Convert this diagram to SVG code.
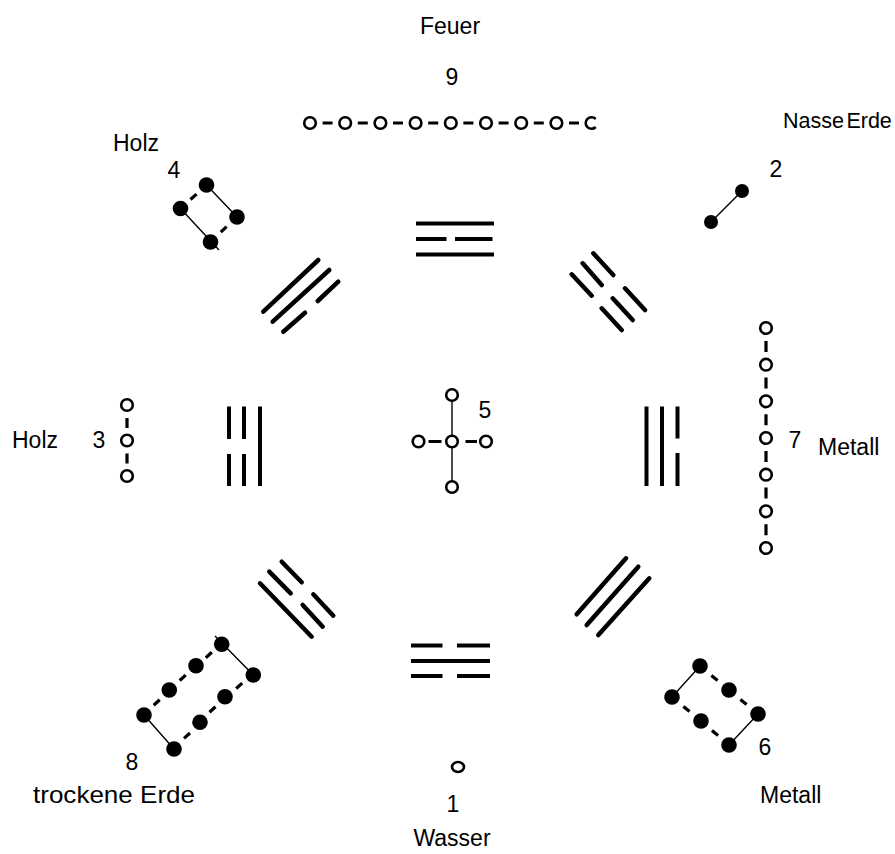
<svg xmlns="http://www.w3.org/2000/svg" width="895" height="854" viewBox="0 0 895 854">
<style>
text{font-family:"Liberation Sans",Arial,sans-serif;font-size:23px;fill:#000}
.o{fill:#fff;stroke:#000;stroke-width:2.6}
.f{fill:#000}
.d{stroke:#000;stroke-width:3.2;fill:none}
.t{stroke:#000;stroke-width:1.4;fill:none}
.bar{stroke:#000;stroke-width:4;fill:none}
.dg{stroke:#000;stroke-width:4.5;fill:none;stroke-linecap:round}
</style>
<rect width="895" height="854" fill="#fff"/>
<g id="trigrams">
<g id="tri-top" class="bar"><path d="M416,223.5H494M416,239H446.5M455,239H492.5M416,254.5H494"/></g>
<g id="tri-bottom" class="bar"><path d="M411,645.5H442.5M457,645.5H490M411,661H490M411,676H442.5M457,676H490"/></g>
<g id="tri-left" class="bar"><path d="M229,406.5V439M244,406.5V439M229,454V486M244,454V486M260,406.5V486"/></g>
<g id="tri-right" class="bar"><path d="M646.5,406.5V486M662,406.5V486M677.5,406.5V438.5M677.5,453V486"/></g>
<g id="tri-ul" class="dg"><path d="M263.3,311.7L318.3,260M272.7,321.7L329.3,270M283.3,331.7L305,312.7M317.7,301L338.3,281.7"/></g>
<g id="tri-ur" class="dg"><path d="M593.3,253.3L613.3,275M625,288.3L645,310M582.7,263.3L601.7,285M612.7,298.3L632.7,320M571.7,274.3L591.7,295.7M601.7,308.3L621.7,330"/></g>
<g id="tri-ll" class="dg"><path d="M260,583.3L311.7,636.7M269.3,571.7L290.7,593.3M302.7,605L322.7,626.7M281.7,561.7L301.7,582.3M313.3,594.3L333.3,615.7"/></g>
<g id="tri-lr" class="dg"><path d="M576.7,614.3L626,558.3M586.7,625L638.3,566.7M598.3,635L649.3,578.3"/></g>
</g>
<g id="connectors">
<path class="d" d="M322.6,123H332.6M357.8,123H367.8M393,123H403M428.2,123H438.2M463.4,123H473.4M498.6,123H508.6M533.8,123H543.8M569,123H579"/>
<path class="d" d="M766,340.9V351.9M766,377.5V388.5M766,414.2V425.2M766,450.9V461.9M766,487.5V498.5M766,524.2V535.2"/>
<path class="d" d="M127,418V428M127,453.5V463.5"/>
<path class="t" d="M452,400V482"/>
<path class="d" d="M428.5,441.5H441.5M465.5,441.5H477"/>
<path class="t" d="M711,222L742,191"/>
<path class="t" d="M206.5,185L237,217M180.5,208.5L219,250"/>
<path class="d" d="M190.5,199.5L196.5,194.1M220.8,232.2L226.6,226.7"/>
<path class="t" d="M144,715L174,749M253.3,675L215,636"/>
<path class="d" d="M205.8,657.7L211.8,652.3M179.7,680.5L185.7,675.1M153.7,705.2L159.7,699.8M184,738.4L190,733M209.5,712.2L215.5,706.8M236.2,688.5L242.2,683.1"/>
<path class="t" d="M700,666L672,697M758,714L729,745"/>
<path class="d" d="M711.4,675.5L717.6,680.5M740.4,699.5L746.6,704.5M683.4,706.5L689.6,711.5M711.9,730.5L718.1,735.5"/>
</g>
<g id="n9"><circle class="o" cx="310" cy="123" r="5.8"/><circle class="o" cx="345.2" cy="123" r="5.8"/><circle class="o" cx="380.4" cy="123" r="5.8"/><circle class="o" cx="415.6" cy="123" r="5.8"/><circle class="o" cx="450.8" cy="123" r="5.8"/><circle class="o" cx="486" cy="123" r="5.8"/><circle class="o" cx="521.2" cy="123" r="5.8"/><circle class="o" cx="556.4" cy="123" r="5.8"/><path class="o" d="M595.7,119A5.8,5.8 0 1 0 595.7,127"/>
<text x="452" y="85" text-anchor="middle">9</text><text x="450" y="34" text-anchor="middle">Feuer</text></g>
<g id="n2"><circle class="f" cx="742" cy="191" r="7"/><circle class="f" cx="711" cy="222" r="7"/><text x="776" y="177" text-anchor="middle">2</text><text x="783" y="128" style="font-size:21.5px;word-spacing:-3.5px">Nasse Erde</text></g>
<g id="n4"><circle class="f" cx="206.5" cy="185" r="7.8"/><circle class="f" cx="180.5" cy="208.5" r="7.8"/><circle class="f" cx="237" cy="217" r="7.8"/><circle class="f" cx="210.5" cy="242" r="7.8"/><text x="174" y="178" text-anchor="middle">4</text><text x="113" y="151">Holz</text></g>
<g id="n3"><circle class="o" cx="127" cy="405" r="5.8"/><circle class="o" cx="127" cy="440.5" r="5.8"/><circle class="o" cx="127" cy="476" r="5.8"/><text x="99" y="448" text-anchor="middle">3</text><text x="12" y="448">Holz</text></g>
<g id="n5"><circle class="o" cx="452" cy="395" r="5.8"/><circle class="o" cx="452" cy="441.5" r="5.8"/><circle class="o" cx="418.5" cy="441.5" r="5.8"/><circle class="o" cx="486" cy="441.5" r="5.8"/><circle class="o" cx="452" cy="487" r="5.8"/><text x="485" y="418" text-anchor="middle">5</text></g>
<g id="n7"><circle class="o" cx="766" cy="328" r="5.8"/><circle class="o" cx="766" cy="364.7" r="5.8"/><circle class="o" cx="766" cy="401.3" r="5.8"/><circle class="o" cx="766" cy="438" r="5.8"/><circle class="o" cx="766" cy="474.7" r="5.8"/><circle class="o" cx="766" cy="511.3" r="5.8"/><circle class="o" cx="766" cy="548" r="5.8"/><text x="795" y="448" text-anchor="middle">7</text><text x="818" y="455">Metall</text></g>
<g id="n8"><circle class="f" cx="221.7" cy="644.3" r="7.8"/><circle class="f" cx="196" cy="665.7" r="7.8"/><circle class="f" cx="169.3" cy="690" r="7.8"/><circle class="f" cx="144" cy="715" r="7.8"/><circle class="f" cx="174" cy="749" r="7.8"/><circle class="f" cx="200" cy="722.3" r="7.8"/><circle class="f" cx="225" cy="696.7" r="7.8"/><circle class="f" cx="253.3" cy="675" r="7.8"/><text x="132" y="770" text-anchor="middle">8</text><text x="33" y="803" style="font-size:24px" textLength="162" lengthAdjust="spacingAndGlyphs">trockene Erde</text></g>
<g id="n6"><circle class="f" cx="700" cy="666" r="7.8"/><circle class="f" cx="729" cy="690" r="7.8"/><circle class="f" cx="758" cy="714" r="7.8"/><circle class="f" cx="672" cy="697" r="7.8"/><circle class="f" cx="701" cy="721" r="7.8"/><circle class="f" cx="729" cy="745" r="7.8"/><text x="765" y="755" text-anchor="middle">6</text><text x="760" y="803">Metall</text></g>
<g id="n1"><ellipse class="o" cx="458" cy="767" rx="6" ry="5"/><text x="453" y="812" text-anchor="middle">1</text><text x="452" y="846" text-anchor="middle">Wasser</text></g>
</svg>
